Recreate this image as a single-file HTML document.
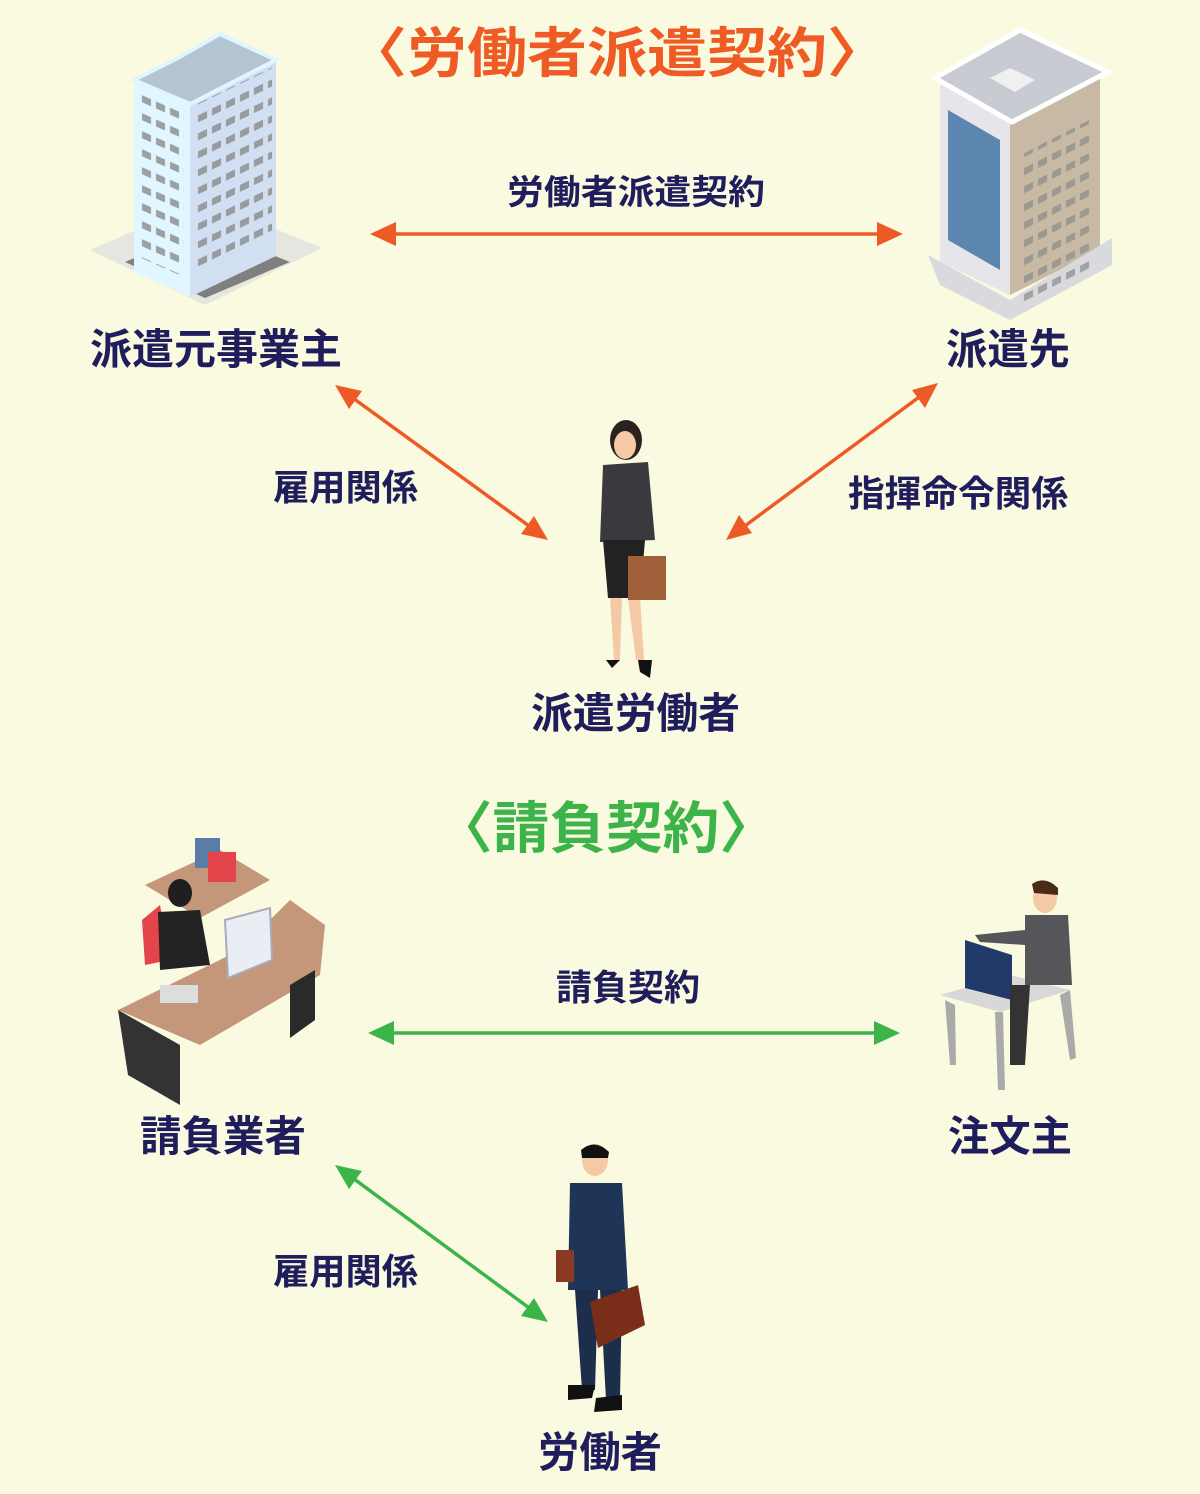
<!DOCTYPE html>
<html><head><meta charset="utf-8"><style>
html,body{margin:0;padding:0;background:#fafae0;}
svg{display:block}
text{font-family:"Liberation Sans","Noto Sans CJK JP",sans-serif;font-weight:bold;fill:#1f1d5c}
</style></head><body>
<svg width="1200" height="1494" viewBox="0 0 1200 1494" xmlns="http://www.w3.org/2000/svg">
<defs>
<pattern id="win" width="14" height="18" patternUnits="userSpaceOnUse"><rect x="2" y="4" width="9" height="7" fill="#8a8a8a"/></pattern>
</defs>
<rect width="1200" height="1494" fill="#fafae0"/>

<text x="347" y="72" font-size="54" style="fill:#ef5b24" textLength="540" lengthAdjust="spacingAndGlyphs">〈労働者派遣契約〉</text>
<text x="436" y="848" font-size="56" style="fill:#3cb44a" textLength="340" lengthAdjust="spacingAndGlyphs">〈請負契約〉</text>

<g stroke="#ee5a26" stroke-width="3.5" fill="none">
<line x1="384" y1="234" x2="890" y2="234"/>
<line x1="346" y1="393" x2="536" y2="531"/>
<line x1="926" y1="392" x2="738" y2="531"/>
</g>
<path d="M370,234 L396,222 L396,246 Z" fill="#ee5a26"/>
<path d="M903,234 L877,222 L877,246 Z" fill="#ee5a26"/>
<path d="M335,385 L362,391 L349,409 Z" fill="#ee5a26"/>
<path d="M548,540 L521,534 L534,516 Z" fill="#ee5a26"/>
<path d="M938,383 L925,408 L912,390 Z" fill="#ee5a26"/>
<path d="M726,540 L739,515 L752,533 Z" fill="#ee5a26"/>

<g stroke="#3cb44a" stroke-width="3.5" fill="none">
<line x1="382" y1="1033" x2="886" y2="1033"/>
<line x1="346" y1="1173" x2="536" y2="1313"/>
</g>
<path d="M368,1033 L394,1021 L394,1045 Z" fill="#3cb44a"/>
<path d="M900,1033 L874,1021 L874,1045 Z" fill="#3cb44a"/>
<path d="M335,1165 L362,1171 L349,1189 Z" fill="#3cb44a"/>
<path d="M548,1322 L521,1316 L534,1298 Z" fill="#3cb44a"/>

<text x="507" y="204" font-size="34" textLength="258" lengthAdjust="spacingAndGlyphs">労働者派遣契約</text>
<text x="90" y="364" font-size="42" textLength="252" lengthAdjust="spacingAndGlyphs">派遣元事業主</text>
<text x="946" y="364" font-size="42" textLength="124" lengthAdjust="spacingAndGlyphs">派遣先</text>
<text x="273" y="500" font-size="36" textLength="145" lengthAdjust="spacingAndGlyphs">雇用関係</text>
<text x="848" y="506" font-size="36" textLength="220" lengthAdjust="spacingAndGlyphs">指揮命令関係</text>
<text x="531" y="728" font-size="42" textLength="209" lengthAdjust="spacingAndGlyphs">派遣労働者</text>
<text x="556" y="1000" font-size="36" textLength="144" lengthAdjust="spacingAndGlyphs">請負契約</text>
<text x="140" y="1151" font-size="42" textLength="166" lengthAdjust="spacingAndGlyphs">請負業者</text>
<text x="948" y="1151" font-size="42" textLength="124" lengthAdjust="spacingAndGlyphs">注文主</text>
<text x="273" y="1284" font-size="36" textLength="145" lengthAdjust="spacingAndGlyphs">雇用関係</text>
<text x="538" y="1467" font-size="42" textLength="124" lengthAdjust="spacingAndGlyphs">労働者</text>

<path d="M90,250 L205,200 L322,248 L205,305 Z" fill="#e6e6e0"/>
<path d="M125,262 L205,228 L290,262 L205,298 Z" fill="#7f7f7f"/>
<path d="M134,80 L190,104 L190,297 L134,272 Z" fill="#e0f7ff"/>
<path d="M190,104 L276,62 L276,256 L190,297 Z" fill="#d0e0f2"/>
<path d="M134,80 L178,58 L220,34 L276,60 L190,104 Z" fill="#b5c4d2" stroke="#e0f6ff" stroke-width="4"/>
<rect x="140" y="92" width="44" height="165" fill="url(#win)" opacity="0.8" transform="skewY(24) translate(0,-62)"/>
<rect x="194" y="100" width="78" height="170" fill="url(#win)" opacity="0.8" transform="skewY(-26) translate(0,100)"/>

<path d="M940,80 L1010,118 L1010,295 L940,262 Z" fill="#e6e6ea"/>
<path d="M1010,118 L1100,72 L1100,250 L1010,295 Z" fill="#c7b9a3"/>
<path d="M948,110 L1000,140 L1000,270 L948,240 Z" fill="#5b86b0"/>
<path d="M935,78 L1020,30 L1108,72 L1012,122 Z" fill="#c9cbd2" stroke="#fff" stroke-width="5"/>
<path d="M928,255 L1010,300 L1112,238 L1112,265 L1010,320 L940,285 Z" fill="#d8dade"/>
<path d="M990,78 L1010,68 L1035,80 L1015,92 Z" fill="#f0f0f0"/>
<rect x="1020" y="115" width="72" height="150" fill="url(#win)" opacity="0.7" transform="skewY(-27) translate(0,560)"/>

<ellipse cx="626" cy="440" rx="16" ry="20" fill="#2b2220"/>
<ellipse cx="625" cy="445" rx="11" ry="14" fill="#f5c9a6"/>
<path d="M603,465 L648,462 L655,540 L600,542 Z" fill="#3a3a3e"/>
<path d="M603,540 L645,540 L640,598 L608,598 Z" fill="#222"/>
<path d="M610,598 L622,598 L620,660 L614,660 Z M628,598 L640,598 L644,660 L636,660 Z" fill="#f5c9a6"/>
<path d="M606,660 L620,660 L612,668 Z M638,660 L652,660 L650,678 L640,672 Z" fill="#111"/>
<rect x="628" y="556" width="38" height="44" fill="#a0603a"/>

<path d="M118,1010 L240,950 L290,900 L325,925 L320,975 L200,1045 Z" fill="#c4967a"/>
<path d="M118,1010 L180,1045 L180,1105 L128,1075 Z" fill="#333"/>
<path d="M290,985 L315,970 L315,1020 L290,1038 Z" fill="#2a2a2a"/>
<path d="M145,885 L220,850 L270,880 L200,918 Z" fill="#c4967a"/>
<path d="M142,920 L160,905 L170,960 L145,965 Z" fill="#e4454a"/>
<ellipse cx="180" cy="893" rx="12" ry="14" fill="#1f1f1f"/>
<path d="M158,912 L200,910 L210,965 L160,970 Z" fill="#222"/>
<path d="M225,920 L270,908 L272,960 L228,978 Z" fill="#e8eef3" stroke="#aab" stroke-width="2"/>
<rect x="195" y="838" width="25" height="30" fill="#5b7ca6"/>
<rect x="208" y="852" width="28" height="30" fill="#e4454a"/>
<rect x="160" y="985" width="38" height="18" fill="#ddd"/>

<path d="M940,995 L1010,975 L1070,990 L1000,1012 Z" fill="#d8d8d8"/>
<path d="M945,1000 L950,1065 L956,1065 L955,1005 Z M995,1012 L998,1090 L1005,1090 L1003,1012 Z" fill="#aaa"/>
<path d="M1060,995 L1070,1060 L1076,1058 L1070,990 Z" fill="#aaa"/>
<path d="M965,940 L1012,955 L1012,1000 L965,988 Z" fill="#223a6a"/>
<ellipse cx="1045" cy="898" rx="12" ry="15" fill="#f5c9a6"/>
<path d="M1032,884 Q1045,875 1058,888 L1058,895 L1034,893 Z" fill="#4a2a18"/>
<path d="M1025,915 L1068,915 L1072,985 L1025,985 Z" fill="#55555a"/>
<path d="M1010,985 L1030,985 L1025,1065 L1010,1065 Z" fill="#333"/>
<path d="M975,935 L1025,930 L1025,945 L980,942 Z" fill="#55555a"/>

<ellipse cx="595" cy="1160" rx="13" ry="16" fill="#f5c9a6"/>
<path d="M581,1150 Q595,1138 609,1152 L608,1158 L582,1158 Z" fill="#111"/>
<path d="M570,1183 L622,1183 L628,1290 L568,1290 Z" fill="#1e3558"/>
<path d="M575,1290 L598,1290 L595,1390 L582,1390 Z M600,1290 L622,1290 L620,1400 L606,1400 Z" fill="#1d2e4a"/>
<path d="M568,1385 L595,1385 L592,1398 L568,1400 Z M596,1398 L622,1395 L622,1410 L594,1412 Z" fill="#111"/>
<rect x="556" y="1250" width="18" height="32" fill="#8a3a22"/>
<path d="M590,1302 L638,1285 L645,1325 L598,1348 Z" fill="#7a2e1a"/>
</svg>
</body></html>
